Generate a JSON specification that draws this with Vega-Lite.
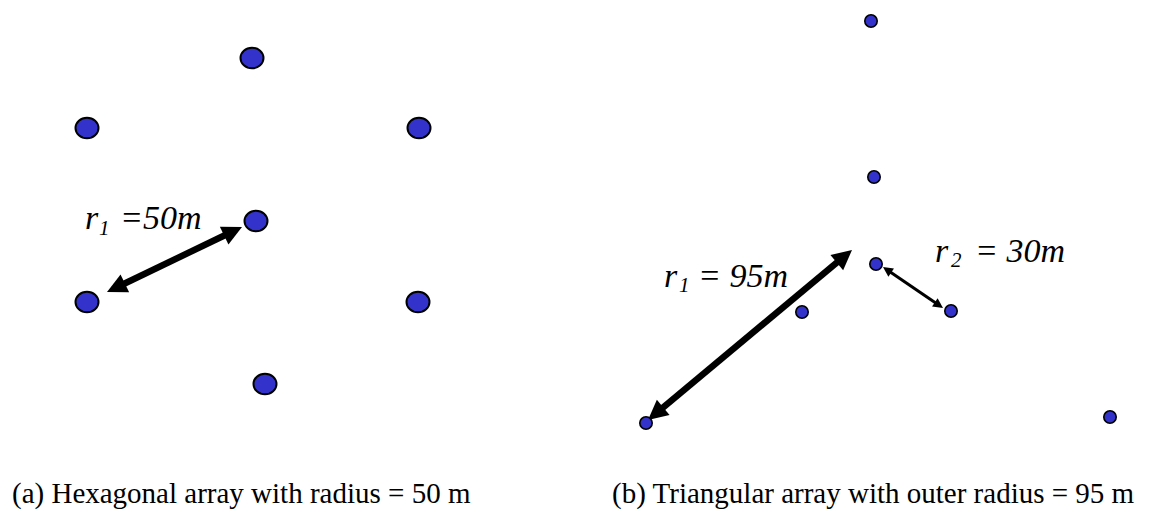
{
  "$schema": "https://vega.github.io/schema/vega-lite/v6.json",
  "width": 1150,
  "height": 515,
  "autosize": {"type": "fit", "contains": "padding"},
  "padding": 0,
  "background": "white",
  "config": {"view": {"stroke": null}},
  "datasets": {
    "dots": [
      {"panel": "a", "x": 252, "y": 58},
      {"panel": "a", "x": 87, "y": 128},
      {"panel": "a", "x": 419, "y": 128},
      {"panel": "a", "x": 256, "y": 221},
      {"panel": "a", "x": 87, "y": 302},
      {"panel": "a", "x": 418, "y": 302},
      {"panel": "a", "x": 265, "y": 384},
      {"panel": "b", "x": 871, "y": 21},
      {"panel": "b", "x": 874, "y": 177},
      {"panel": "b", "x": 876, "y": 264},
      {"panel": "b", "x": 802, "y": 312},
      {"panel": "b", "x": 951, "y": 311},
      {"panel": "b", "x": 646, "y": 423},
      {"panel": "b", "x": 1110, "y": 417}
    ],
    "shafts": [
      {"kind": "thick", "x": 120.5, "y": 285.5, "x2": 228.5, "y2": 233.5},
      {"kind": "thick", "x": 659.5, "y": 410.4, "x2": 840.5, "y2": 259.6},
      {"kind": "thin", "x": 888.8, "y": 271, "x2": 937.2, "y2": 304}
    ],
    "heads": [
      {"kind": "thick", "x": 107, "y": 292, "angle": 244.3},
      {"kind": "thick", "x": 242, "y": 227, "angle": 64.3},
      {"kind": "thick", "x": 648, "y": 420, "angle": 230.2},
      {"kind": "thick", "x": 852, "y": 250, "angle": 50.2},
      {"kind": "thin", "x": 883, "y": 267, "angle": 304.3},
      {"kind": "thin", "x": 943, "y": 308, "angle": 124.3}
    ],
    "labels": [
      {"kind": "main", "x": 85, "y": 229, "t": "r"},
      {"kind": "sub", "x": 99, "y": 235, "t": "1"},
      {"kind": "main", "x": 120, "y": 229, "t": "=50m"},
      {"kind": "main", "x": 664, "y": 287, "t": "r"},
      {"kind": "sub", "x": 679, "y": 292, "t": "1"},
      {"kind": "main", "x": 698, "y": 287, "t": "= 95m"},
      {"kind": "main", "x": 935, "y": 262, "t": "r"},
      {"kind": "sub", "x": 951, "y": 267, "t": "2"},
      {"kind": "main", "x": 975, "y": 262, "t": "= 30m"}
    ],
    "captions": [
      {"x": 12, "y": 503, "t": "(a) Hexagonal array with radius = 50 m"},
      {"x": 612, "y": 503, "t": "(b) Triangular array with outer radius = 95 m"}
    ]
  },
  "encoding": {
    "x": {"field": "x", "type": "quantitative", "scale": {"domain": [0, 1150], "nice": false, "zero": false}, "axis": null},
    "y": {"field": "y", "type": "quantitative", "scale": {"domain": [0, 515], "reverse": true, "nice": false, "zero": false}, "axis": null}
  },
  "layer": [
    {
      "data": {"name": "shafts"},
      "transform": [{"filter": "datum.kind === 'thick'"}],
      "mark": {"type": "rule", "color": "black", "strokeWidth": 6.5, "strokeCap": "butt"},
      "encoding": {"x2": {"field": "x2"}, "y2": {"field": "y2"}}
    },
    {
      "data": {"name": "shafts"},
      "transform": [{"filter": "datum.kind === 'thin'"}],
      "mark": {"type": "rule", "color": "black", "strokeWidth": 3, "strokeCap": "butt"},
      "encoding": {"x2": {"field": "x2"}, "y2": {"field": "y2"}}
    },
    {
      "data": {"name": "heads"},
      "transform": [{"filter": "datum.kind === 'thick'"}],
      "mark": {"type": "point", "shape": "M0,0L0.55,1.1L-0.55,1.1Z", "filled": true, "color": "black", "opacity": 1, "size": 1296, "strokeWidth": 0},
      "encoding": {"angle": {"field": "angle", "type": "quantitative", "scale": null}}
    },
    {
      "data": {"name": "heads"},
      "transform": [{"filter": "datum.kind === 'thin'"}],
      "mark": {"type": "point", "shape": "M0,0L0.55,1.1L-0.55,1.1Z", "filled": true, "color": "black", "opacity": 1, "size": 324, "strokeWidth": 0},
      "encoding": {"angle": {"field": "angle", "type": "quantitative", "scale": null}}
    },
    {
      "data": {"name": "dots"},
      "transform": [{"filter": "datum.panel === 'a'"}],
      "mark": {"type": "point", "shape": "M-1,0A1,0.9,0,1,1,1,0A1,0.9,0,1,1,-1,0Z", "filled": true, "fill": "#3333CC", "stroke": "black", "strokeWidth": 2, "opacity": 1, "fillOpacity": 1, "size": 529}
    },
    {
      "data": {"name": "dots"},
      "transform": [{"filter": "datum.panel === 'b'"}],
      "mark": {"type": "point", "shape": "circle", "filled": true, "fill": "#3333CC", "stroke": "black", "strokeWidth": 1.6, "opacity": 1, "fillOpacity": 1, "size": 154}
    },
    {
      "data": {"name": "labels"},
      "transform": [{"filter": "datum.kind === 'main'"}],
      "mark": {"type": "text", "font": "'Liberation Serif', 'Times New Roman', serif", "fontStyle": "italic", "fontSize": 34, "align": "left", "baseline": "alphabetic", "color": "black"},
      "encoding": {"text": {"field": "t"}}
    },
    {
      "data": {"name": "labels"},
      "transform": [{"filter": "datum.kind === 'sub'"}],
      "mark": {"type": "text", "font": "'Liberation Serif', 'Times New Roman', serif", "fontStyle": "italic", "fontSize": 21, "align": "left", "baseline": "alphabetic", "color": "black"},
      "encoding": {"text": {"field": "t"}}
    },
    {
      "data": {"name": "captions"},
      "mark": {"type": "text", "font": "'Liberation Serif', 'Times New Roman', serif", "fontSize": 29, "align": "left", "baseline": "alphabetic", "color": "black"},
      "encoding": {"text": {"field": "t"}}
    }
  ]
}
